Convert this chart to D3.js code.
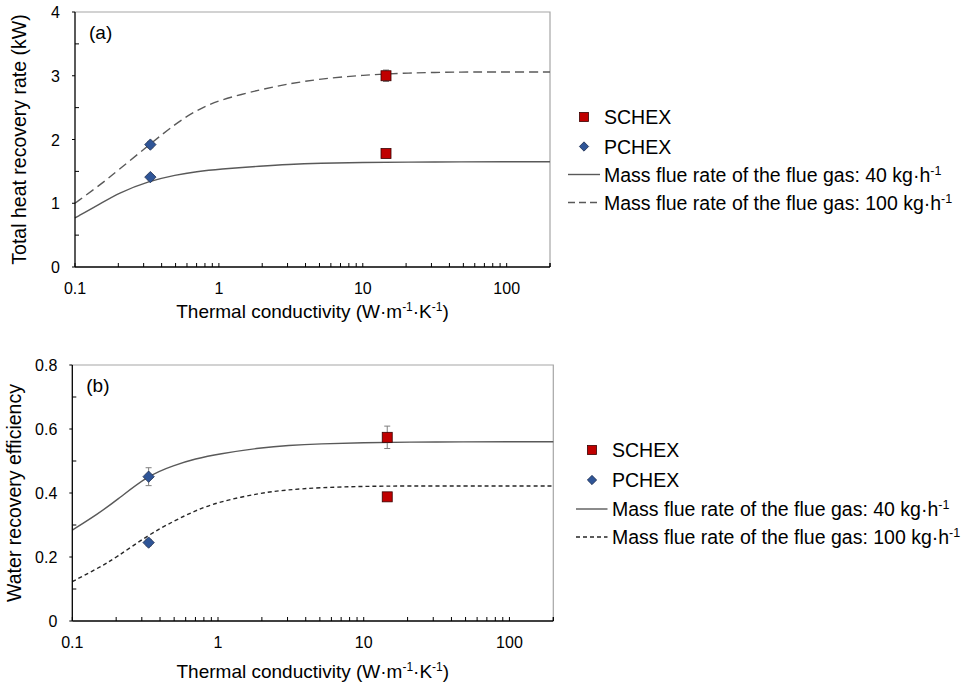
<!DOCTYPE html>
<html><head><meta charset="utf-8">
<script src="https://cdn.jsdelivr.net/npm/d3@7"></script>
<style>
body{margin:0;background:#fff}
svg{display:block;font-family:"Liberation Sans",Arial,sans-serif}
</style>
</head><body>
<svg id="c" width="966" height="685"></svg>
<script>
// ---------- data ----------
const curveK   = [0.1, 0.15, 0.2, 0.33, 0.5, 0.7, 1, 2, 3, 5, 10, 20, 50, 100, 200];
const heat40   = [0.77, 0.99, 1.16, 1.35, 1.445, 1.497, 1.535, 1.585, 1.61, 1.628, 1.64, 1.646, 1.65, 1.65, 1.65];
const heat100  = [1.00, 1.29, 1.52, 1.92, 2.25, 2.46, 2.62, 2.79, 2.87, 2.95, 3.01, 3.045, 3.06, 3.06, 3.06];
const water40  = [0.284, 0.335, 0.376, 0.455, 0.487, 0.507, 0.522, 0.542, 0.549, 0.554, 0.557, 0.559, 0.56, 0.56, 0.56];
const water100 = [0.123, 0.165, 0.198, 0.268, 0.313, 0.345, 0.372, 0.401, 0.41, 0.417, 0.421, 0.422, 0.422, 0.422, 0.422];

const schexK = 14.5;
const pchexK = 0.334;
const heatSchex = [1.78, 3.0];   const heatSchexErr = [0.03, 0.09];
const heatPchex = [1.41, 1.92];  const heatPchexErr = [0.04, 0.05];
const waterSchex = [0.574, 0.388]; const waterSchexErr = [0.035, 0.01];
const waterPchex = [0.451, 0.245]; const waterPchexErr = [0.028, 0.01];

const xTicks = [0.1, 1, 10, 100];
const xTickLabels = ["0.1", "1", "10", "100"];
const yTicksA = [0, 1, 2, 3, 4];
const yTickLabelsA = ["0", "1", "2", "3", "4"];
const yMinorA = [0.5, 1.5, 2.5, 3.5];
const yTicksB = [0, 0.2, 0.4, 0.6, 0.8];
const yTickLabelsB = ["0", "0.2", "0.4", "0.6", "0.8"];
const yMinorB = [0.1, 0.3, 0.5, 0.7];

const legendSeries = ["SCHEX", "PCHEX"];
const legendLines = ["Mass flue rate of the flue gas: 40 kg·h", "Mass flue rate of the flue gas: 100 kg·h"];

// ---------- drawing ----------
const svg = d3.select("#c");
const RED = "#c00000", BLUE = "#2f5597";

function minorX() {
  const out = [];
  [0.1, 1, 10, 100].forEach(d => { for (let i = 1; i <= 9; i++) { const v = d * i; if (v <= 200.0001) out.push(v); } });
  out.push(200);
  return out;
}

function panel(cfg) {
  const g = svg.append("g");
  const x = d3.scaleLog().domain([0.1, 200]).range([cfg.left, cfg.right]);
  const y = d3.scaleLinear().domain([0, cfg.ymax]).range([cfg.bottom, cfg.top]);

  g.append("path")
    .attr("d", `M${cfg.left},${cfg.top}H${cfg.right}V${cfg.bottom}`)
    .attr("fill", "none").attr("stroke", "#a6a6a6").attr("stroke-width", 1.2);

  const line = d3.line().x(d => x(d[0])).y(d => y(d[1])).curve(d3.curveBasis);
  g.append("path").datum(curveK.map((k, i) => [k, cfg.c40[i]]))
    .attr("d", line).attr("fill", "none").attr("stroke", "#595959").attr("stroke-width", 1.4);
  g.append("path").datum(curveK.map((k, i) => [k, cfg.c100[i]]))
    .attr("d", line).attr("fill", "none").attr("stroke", cfg.dashColor).attr("stroke-width", 1.4)
    .attr("stroke-dasharray", cfg.dash);

  g.append("line").attr("x1", cfg.left).attr("x2", cfg.left).attr("y1", cfg.top).attr("y2", cfg.bottom)
    .attr("stroke", "#000").attr("stroke-width", 1.3);
  g.append("line").attr("x1", cfg.left).attr("x2", cfg.right).attr("y1", cfg.bottom).attr("y2", cfg.bottom)
    .attr("stroke", "#000").attr("stroke-width", 1.3);

  g.selectAll(".xt").data(minorX()).enter().append("line")
    .attr("x1", d => x(d)).attr("x2", d => x(d))
    .attr("y1", cfg.bottom).attr("y2", cfg.bottom - 4)
    .attr("stroke", "#000").attr("stroke-width", 1);
  g.selectAll(".ytM").data(cfg.yTicks).enter().append("line")
    .attr("x1", cfg.left - 3).attr("x2", cfg.left).attr("y1", d => y(d)).attr("y2", d => y(d))
    .attr("stroke", "#000").attr("stroke-width", 1);
  g.selectAll(".ytm").data(cfg.yMinor).enter().append("line")
    .attr("x1", cfg.left).attr("x2", cfg.left + 4).attr("y1", d => y(d)).attr("y2", d => y(d))
    .attr("stroke", "#000").attr("stroke-width", 1);

  g.selectAll(".xl").data(xTicks).enter().append("text")
    .attr("x", d => x(d)).attr("y", cfg.bottom + 27)
    .attr("text-anchor", "middle").attr("font-size", 16).attr("fill", "#000")
    .text((d, i) => xTickLabels[i]);
  g.selectAll(".yl").data(cfg.yTicks).enter().append("text")
    .attr("x", cfg.left - 15).attr("y", d => y(d) + 6)
    .attr("text-anchor", "end").attr("font-size", 16).attr("fill", "#000")
    .text((d, i) => cfg.yLabels[i]);

  const xt = g.append("text").attr("x", (cfg.left + cfg.right) / 2).attr("y", cfg.bottom + cfg.xTitleDy)
    .attr("text-anchor", "middle").attr("font-size", 19).attr("fill", "#000");
  xt.append("tspan").text("Thermal conductivity (W·m");
  xt.append("tspan").attr("font-size", 12).attr("dy", -7).text("-1");
  xt.append("tspan").attr("dy", 7).text("·K");
  xt.append("tspan").attr("font-size", 12).attr("dy", -7).text("-1");
  xt.append("tspan").attr("dy", 7).text(")");

  g.append("text").attr("transform", `translate(${cfg.yTitleX},${(cfg.top + cfg.bottom) / 2}) rotate(-90)`)
    .attr("text-anchor", "middle").attr("font-size", 19.5).attr("fill", "#000").text(cfg.yTitle);

  g.append("text").attr("x", cfg.left + 14).attr("y", cfg.top + 27)
    .attr("font-size", 19).attr("fill", "#000").text(cfg.tag);

  function errbar(k, v, e) {
    if (e <= 0) return;
    const xx = x(k);
    g.append("line").attr("x1", xx).attr("x2", xx).attr("y1", y(v - e)).attr("y2", y(v + e))
      .attr("stroke", "#7f7f7f").attr("stroke-width", 1);
    [v - e, v + e].forEach(t => g.append("line").attr("x1", xx - 3).attr("x2", xx + 3)
      .attr("y1", y(t)).attr("y2", y(t)).attr("stroke", "#7f7f7f").attr("stroke-width", 1));
  }
  cfg.pch.forEach((v, i) => errbar(pchexK, v, cfg.pchErr[i]));
  cfg.sch.forEach((v, i) => errbar(schexK, v, cfg.schErr[i]));
  const diamond = d3.symbol().type(d3.symbolDiamond2).size(82);
  g.selectAll(".pd").data(cfg.pch).enter().append("path")
    .attr("d", diamond).attr("transform", d => `translate(${x(pchexK)},${y(d)})`)
    .attr("fill", BLUE).attr("stroke", "#1f2f4f").attr("stroke-width", 0.8);
  g.selectAll(".sd").data(cfg.sch).enter().append("rect")
    .attr("x", x(schexK) - 5).attr("y", d => y(d) - 5).attr("width", 10).attr("height", 10)
    .attr("fill", RED).attr("stroke", "#3a0000").attr("stroke-width", 0.8);

  const L = cfg.legend;
  const lg = svg.append("g");
  lg.append("rect").attr("x", L.mx - 4.5).attr("y", L.ys[0] - 4.5).attr("width", 9).attr("height", 9)
    .attr("fill", RED).attr("stroke", "#3a0000").attr("stroke-width", 0.8);
  lg.append("path").attr("d", d3.symbol().type(d3.symbolDiamond2).size(55)())
    .attr("transform", `translate(${L.mx},${L.ys[1]})`)
    .attr("fill", BLUE).attr("stroke", "#1f2f4f").attr("stroke-width", 0.8);
  legendSeries.forEach((s, i) => lg.append("text").attr("x", L.tx).attr("y", L.ys[i] + 7)
    .attr("font-size", 19.5).attr("fill", "#000").text(s));
  lg.append("line").attr("x1", L.lx1).attr("x2", L.lx2).attr("y1", L.ys[2]).attr("y2", L.ys[2])
    .attr("stroke", "#595959").attr("stroke-width", 1.4);
  lg.append("line").attr("x1", L.lx1).attr("x2", L.lx2).attr("y1", L.ys[3]).attr("y2", L.ys[3])
    .attr("stroke", cfg.dashColor).attr("stroke-width", 1.4).attr("stroke-dasharray", cfg.legDash);
  legendLines.forEach((s, i) => {
    const t = lg.append("text").attr("x", L.tx).attr("y", L.ys[i + 2] + 7)
      .attr("font-size", 19.5).attr("fill", "#000");
    t.append("tspan").text(s);
    t.append("tspan").attr("font-size", 12.5).attr("dy", -7).text("-1");
  });
}

panel({
  left: 75, right: 550, top: 12, bottom: 267, ymax: 4,
  c40: heat40, c100: heat100, dash: "9,5", legDash: "7,4", dashColor: "#595959",
  yTicks: yTicksA, yLabels: yTickLabelsA, yMinor: yMinorA,
  yTitle: "Total heat recovery rate (kW)", yTitleX: 26, xTitleDy: 51, tag: "(a)",
  sch: heatSchex, schErr: heatSchexErr, pch: heatPchex, pchErr: heatPchexErr,
  legend: { mx: 584, tx: 604, lx1: 568, lx2: 600, ys: [117, 146.5, 174.5, 202.5] }
});
panel({
  left: 72.3, right: 553.3, top: 365, bottom: 621, ymax: 0.8,
  c40: water40, c100: water100, dash: "4,3", legDash: "4,3", dashColor: "#262626",
  yTicks: yTicksB, yLabels: yTickLabelsB, yMinor: yMinorB,
  yTitle: "Water recovery efficiency", yTitleX: 21, xTitleDy: 57, tag: "(b)",
  sch: waterSchex, schErr: waterSchexErr, pch: waterPchex, pchErr: waterPchexErr,
  legend: { mx: 592, tx: 612, lx1: 576, lx2: 607.5, ys: [450, 480, 509, 537] }
});
</script>
</body></html>
